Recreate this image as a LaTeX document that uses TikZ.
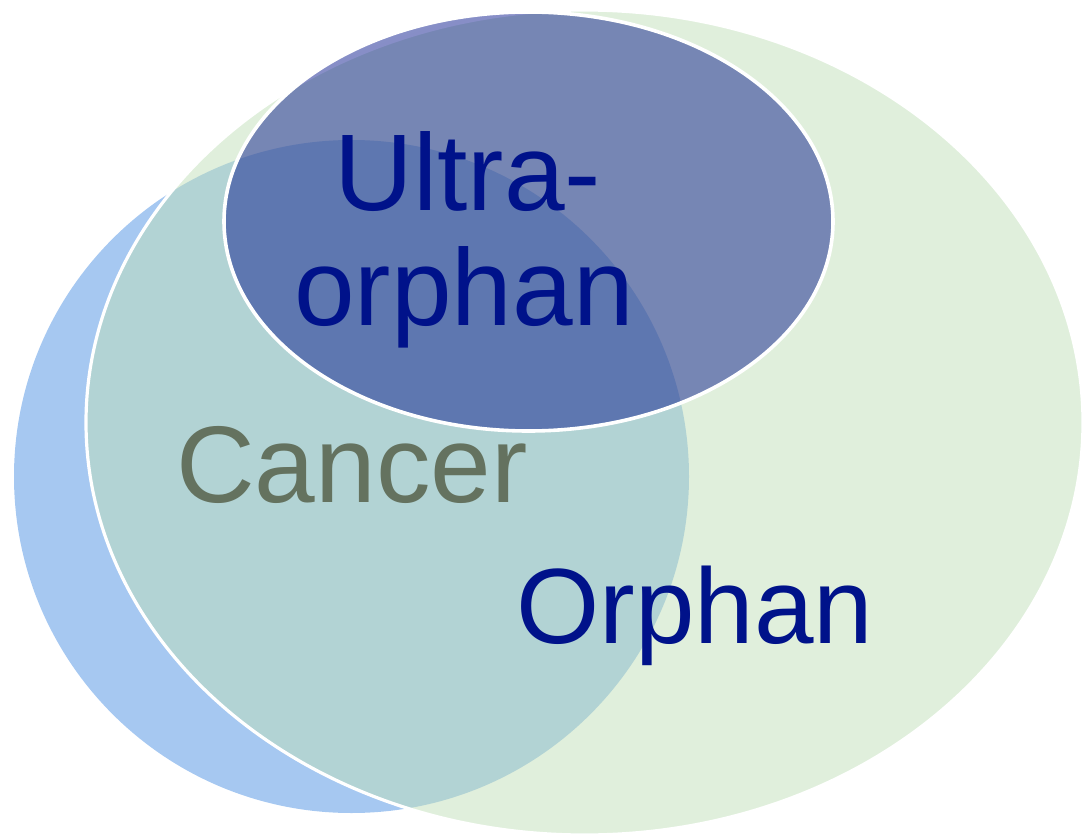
\documentclass[tikz,border=0pt]{standalone}
\usepackage{fontspec}
\setmainfont{Liberation Sans}
\definecolor{cancerblue}{HTML}{A6C8F1}
\definecolor{orphgreen}{RGB}{192,223,184}
\definecolor{ultracore}{RGB}{0,16,136}
\definecolor{navytext}{HTML}{00128A}
\definecolor{cancertext}{HTML}{64725F}
\tikzset{
  lbl/.style={inner sep=0pt, font=\fontsize{109pt}{114pt}\selectfont},
  rim/.style={draw=white, line width=#1},
}
\begin{document}
\begin{tikzpicture}[x=1pt,y=-1pt]
\useasboundingbox (0,0) rectangle (1084,837);
% Cancer set
\path[fill=cancerblue] (351.5,476.5) ellipse [x radius=337.5pt, y radius=336.5pt];
% Orphan set
\path[fill=orphgreen, fill opacity=0.494] (584.5,422.5) ellipse [x radius=498.5pt, y radius=412.5pt];
\path[rim=3.2pt] (584.5,422.5) ellipse [x radius=498.5pt, y radius=412.5pt];
% Ultra-orphan set
\path[fill=ultracore, fill opacity=0.47] (528.5,221.5) ellipse [x radius=304.5pt, y radius=209.5pt];
\path[rim=3.6pt] (528.5,221.5) ellipse [x radius=304.5pt, y radius=209.5pt];
% labels
\node[lbl, text=navytext, anchor=base] (ultraA) at (468,211) {Ultra-};
\node[lbl, text=navytext, anchor=base] (ultraB) at (464,325) {orphan};
\node[lbl, text=cancertext, anchor=base west] (cancer) at (176,502) {Cancer};
\node[lbl, text=navytext, anchor=base west, font=\fontsize{107pt}{114pt}\selectfont] (orphan) at (516,643) {Orphan};
\end{tikzpicture}
\end{document}
